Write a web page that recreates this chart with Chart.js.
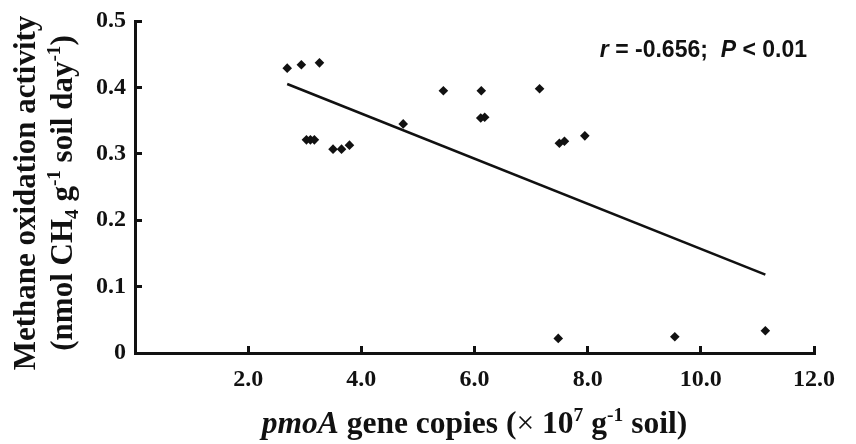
<!DOCTYPE html>
<html>
<head>
<meta charset="utf-8">
<script src="https://cdn.jsdelivr.net/npm/chart.js@4.4.0/dist/chart.umd.min.js"></script>
<style>
  html, body { margin: 0; padding: 0; background: #fff; }
  canvas { display: block; }
</style>
</head>
<body>
<canvas id="myChart" width="856" height="444"></canvas>
<script>
// pmoA gene copies (x 10^7 g-1 soil) and methane oxidation activity
const geneCopies = [2.69, 2.94, 3.26, 3.03, 3.10, 3.17, 3.50, 3.65, 3.79, 4.74, 5.45, 6.12, 6.11, 6.18, 7.15, 7.50, 7.59, 7.95, 7.48, 9.54, 11.14];
const oxidation  = [0.429, 0.434, 0.437, 0.321, 0.321, 0.321, 0.307, 0.307, 0.313, 0.345, 0.395, 0.395, 0.354, 0.355, 0.398, 0.316, 0.319, 0.327, 0.022, 0.0245, 0.0335];

// ends of the fitted line
const trendX = [2.69, 11.14];
const trendY = [0.405, 0.118];

const xTicks = [2, 4, 6, 8, 10, 12];
const yTicks = [0, 0.1, 0.2, 0.3, 0.4, 0.5];

const INK = '#111';
const SERIF = '"Liberation Serif", "Times New Roman", serif';
const SANS = '"Liberation Sans", Arial, sans-serif';

// draws a line of mixed text (italic parts, sub/superscripts), centred or right aligned at x
function drawRich(ctx, parts, x, y, size, family, align) {
    let total = 0;
    const items = parts.map(([t, style, kind]) => {
        const s = kind ? size * 0.62 : size;
        const font = style + ' ' + s + 'px ' + family;
        ctx.font = font;
        const width = ctx.measureText(t).width;
        total += width;
        let dy = 0;
        if (kind === 'sup') dy = -size * 0.38;
        if (kind === 'sub') dy = size * 0.2;
        return { t, font, width, dy };
    });
    let cx = align === 'right' ? x - total : x - total / 2;
    ctx.textAlign = 'left';
    ctx.textBaseline = 'alphabetic';
    items.forEach(it => {
        ctx.font = it.font;
        ctx.fillText(it.t, cx, y + it.dy);
        cx += it.width;
    });
}

const labelsPlugin = {
    id: 'labels',
    afterDraw(chart) {
        const ctx = chart.ctx;
        const area = chart.chartArea;
        ctx.save();
        ctx.fillStyle = INK;

        // x axis title
        drawRich(ctx, [
            ['pmoA', 'italic bold'],
            [' gene copies (', 'bold'],
            ['\u00d7', 'normal'],
            [' 10', 'bold'],
            ['7', 'bold', 'sup'],
            [' g', 'bold'],
            ['-1', 'bold', 'sup'],
            [' soil)', 'bold']
        ], (area.left + area.right) / 2, area.bottom + 80, 31.5, SERIF);

        // y axis title, two lines
        ctx.save();
        ctx.translate(0, (area.top + area.bottom) / 2 + 6);
        ctx.rotate(-Math.PI / 2);
        drawRich(ctx, [['Methane oxidation activity', 'bold']], 0, 35, 31, SERIF);
        drawRich(ctx, [
            ['(nmol CH', 'bold'],
            ['4', 'bold', 'sub'],
            [' g', 'bold'],
            ['-1', 'bold', 'sup'],
            [' soil day', 'bold'],
            ['-1', 'bold', 'sup'],
            [')', 'bold']
        ], 0, 72, 31, SERIF);
        ctx.restore();

        // correlation note
        drawRich(ctx, [
            ['r', 'italic bold'],
            [' = -0.656;  ', 'bold'],
            ['P', 'italic bold'],
            [' < 0.01', 'bold']
        ], area.right - 7, area.top + 36, 23, SANS, 'right');

        ctx.restore();
    }
};

const ctx = document.getElementById('myChart');

new Chart(ctx, {
    type: 'scatter',
    data: {
        datasets: [{
            label: 'samples',
            data: geneCopies.map((x, i) => ({ x: x, y: oxidation[i] })),
            pointStyle: 'rectRot',
            pointRadius: 4.8,
            backgroundColor: INK,
            borderColor: INK,
            borderWidth: 0
        }, {
            label: 'fit',
            data: trendX.map((x, i) => ({ x: x, y: trendY[i] })),
            showLine: true,
            pointRadius: 0,
            borderColor: INK,
            borderWidth: 2.6
        }]
    },
    options: {
        responsive: false,
        animation: false,
        devicePixelRatio: 1,
        layout: { padding: { top: 21, right: 42, left: 0, bottom: 0 } },
        plugins: {
            legend: { display: false },
            tooltip: { enabled: false }
        },
        scales: {
            x: {
                type: 'linear',
                min: 0,
                max: 12,
                afterBuildTicks: scale => { scale.ticks = xTicks.map(v => ({ value: v })); },
                afterFit: scale => {
                    scale.height = 91;
                    scale.paddingLeft = 0;
                    scale.paddingRight = 0;
                },
                grid: { drawOnChartArea: false, drawTicks: true, tickLength: -7, lineWidth: 3, color: INK },
                border: { display: true, width: 3, color: INK },
                ticks: {
                    padding: 19,
                    color: INK,
                    font: { family: SERIF, size: 24, weight: 'bold' },
                    maxRotation: 0,
                    autoSkip: false,
                    callback: v => v.toFixed(1)
                }
            },
            y: {
                type: 'linear',
                min: 0,
                max: 0.5,
                afterBuildTicks: scale => { scale.ticks = yTicks.map(v => ({ value: v })); },
                afterFit: scale => {
                    scale.width = 135;
                    scale.paddingTop = 0;
                    scale.paddingBottom = 0;
                },
                grid: { drawOnChartArea: false, drawTicks: true, tickLength: -7, lineWidth: 3, color: INK },
                border: { display: true, width: 3, color: INK },
                ticks: {
                    padding: 16,
                    color: INK,
                    font: { family: SERIF, size: 24, weight: 'bold' },
                    autoSkip: false,
                    callback: v => v === 0 ? '0' : v.toFixed(1)
                }
            }
        }
    },
    plugins: [labelsPlugin]
});
</script>
</body>
</html>
